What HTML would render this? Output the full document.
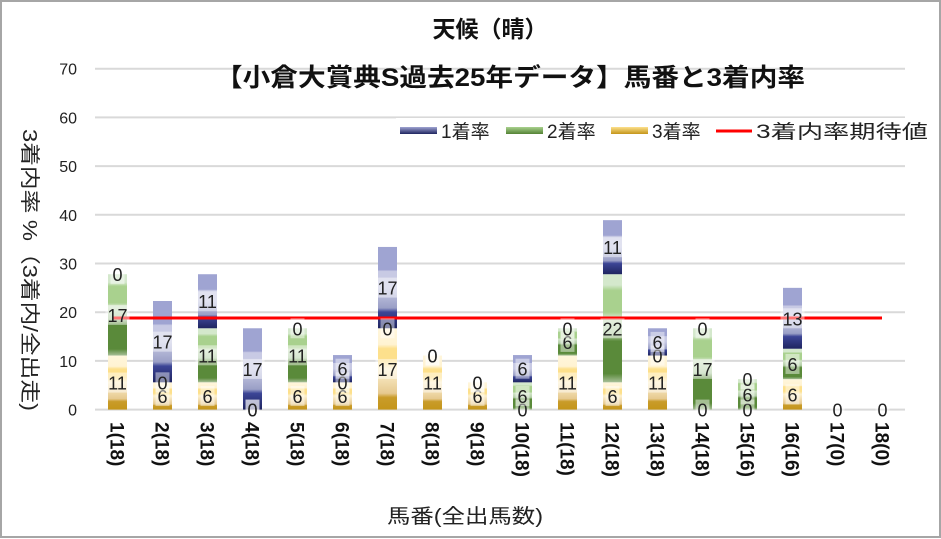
<!DOCTYPE html>
<html><head><meta charset="utf-8"><style>
html,body{margin:0;padding:0;background:#fff;}
svg{display:block;font-family:"Liberation Sans","Noto Sans CJK JP",sans-serif;}
</style></head><body>
<svg id="s" width="941" height="539" viewBox="0 0 941 539" xmlns="http://www.w3.org/2000/svg">
<defs>
<linearGradient id="gG" x1="0" y1="1" x2="0" y2="0">
<stop offset="0" stop-color="#c4951a"/><stop offset="0.15" stop-color="#c99c2a"/><stop offset="0.2" stop-color="#e6c98f"/><stop offset="0.5" stop-color="#fdf1cf"/><stop offset="0.6" stop-color="#fde08c"/><stop offset="0.75" stop-color="#fde08c"/><stop offset="0.8" stop-color="#fff3d2"/><stop offset="1" stop-color="#fff6dc"/>
</linearGradient>
<linearGradient id="gN" x1="0" y1="1" x2="0" y2="0">
<stop offset="0" stop-color="#a7bf98"/><stop offset="0.08" stop-color="#5a8a3a"/><stop offset="0.38" stop-color="#5a8a3a"/><stop offset="0.45" stop-color="#b4cfa8"/><stop offset="0.6" stop-color="#d2e5c8"/><stop offset="0.65" stop-color="#a9d18e"/><stop offset="0.85" stop-color="#a9d18e"/><stop offset="0.9" stop-color="#d4e8cc"/><stop offset="1" stop-color="#d4e8cc"/>
</linearGradient>
<linearGradient id="gB" x1="0" y1="1" x2="0" y2="0">
<stop offset="0" stop-color="#1f2560"/><stop offset="0.2" stop-color="#3c4596"/><stop offset="0.25" stop-color="#9a9fc6"/><stop offset="0.5" stop-color="#c8cae4"/><stop offset="0.7" stop-color="#c8cae4"/><stop offset="0.72" stop-color="#9fa4d2"/><stop offset="1" stop-color="#9fa4d2"/>
</linearGradient>
<linearGradient id="lB" x1="0" y1="0" x2="0" y2="1"><stop offset="0" stop-color="#9fa4d2"/><stop offset="1" stop-color="#1f2560"/></linearGradient>
<linearGradient id="lN" x1="0" y1="0" x2="0" y2="1"><stop offset="0" stop-color="#a9d18e"/><stop offset="1" stop-color="#548235"/></linearGradient>
<linearGradient id="lG" x1="0" y1="0" x2="0" y2="1"><stop offset="0" stop-color="#fde08c"/><stop offset="1" stop-color="#c4951a"/></linearGradient>
</defs>
<rect x="1" y="1" width="939" height="536" fill="#fff" stroke="#a6a6a6" stroke-width="2"/>
<g id="grid"></g>
<g id="bars"></g>
<line x1="113" y1="318" x2="882" y2="318" stroke="#ff0000" stroke-width="3"/>
<g id="labels"></g>
<rect x="396" y="118" width="538" height="26" fill="#fff"/>
<g font-size="19" fill="#222">
<rect x="400" y="127" width="37" height="7" fill="url(#lB)"/><text x="441" y="138">1着率</text>
<rect x="506" y="127" width="37" height="7" fill="url(#lN)"/><text x="547" y="138">2着率</text>
<rect x="611" y="127" width="37" height="7" fill="url(#lG)"/><text x="652" y="138">3着率</text>
<line x1="716" y1="131" x2="752" y2="131" stroke="#ff0000" stroke-width="3"/><text x="756" y="138" textLength="172" lengthAdjust="spacingAndGlyphs">3着内率期待値</text>
</g>
<text x="490" y="37" text-anchor="middle" font-size="23" font-weight="bold" fill="#111">天候（晴）</text>
<text x="215" y="86" font-size="25" font-weight="bold" fill="#111" textLength="590" lengthAdjust="spacingAndGlyphs">【小倉大賞典S過去25年データ】馬番と3着内率</text>
<text transform="translate(23,270) rotate(90)" text-anchor="middle" font-size="20" fill="#222" textLength="282" lengthAdjust="spacingAndGlyphs">3着内率 %（3着内/全出走)</text>
<text x="465" y="523" text-anchor="middle" font-size="20" fill="#222" textLength="156" lengthAdjust="spacingAndGlyphs">馬番(全出馬数)</text>
<g id="xl"></g>
</svg>
<script>
var NS="http://www.w3.org/2000/svg";
function el(p,t,a,txt){var e=document.createElementNS(NS,t);for(var k in a)e.setAttribute(k,a[k]);if(txt!=null)e.textContent=txt;document.getElementById(p).appendChild(e);return e;}
var y0=409.6,sc=4.87;
for(var v=0;v<=70;v+=10){var y=y0-v*sc;el("grid","line",{x1:95,x2:905,y1:y,y2:y,stroke:"#d9d9d9","stroke-width":2});
el("grid","text",{x:77,y:y+6,"text-anchor":"end","font-size":16,fill:"#222"},String(v));}
var d=[[11.1,16.7,0],[5.6,0,16.7],[5.6,11.1,11.1],[0,0,16.7],[5.6,11.1,0],[5.6,0,5.6],[16.7,0,16.7],[11.1,0,0],[5.6,0,0],[0,5.6,5.6],[11.1,5.6,0],[5.6,22.2,11.1],[11.1,0,5.6],[0,16.7,0],[0,6.25,0],[6.25,6.25,12.5],[0,0,0],[0,0,0]];
var n=["18","18","18","18","18","18","18","18","18","18","18","18","18","18","16","16","0","0"];
var fills=["url(#gG)","url(#gN)","url(#gB)"];
d.forEach(function(r,i){var cx=117.5+45*i,base=0,lab=[];
 var all0=(r[0]+r[1]+r[2])==0;
 r.forEach(function(v,j){var yb=y0-base*sc,yt=y0-(base+v)*sc;
  if(v>0)el("bars","rect",{x:cx-9.5,y:yt,width:19,height:yb-yt,fill:fills[j]});
  lab.push([(yb+yt)/2,Math.round(v)]);base+=v;});
 if(all0){lab=[[409.6,0]];}
 lab.forEach(function(l){var s=String(l[1]);var w=s.length*10+4;
  el("labels","rect",{x:cx-w/2,y:l[0]-10,width:w,height:20,fill:"#fff","fill-opacity":0.45});
  el("labels","text",{x:cx,y:l[0]+7,"text-anchor":"middle","font-size":18,fill:"#222"},s);});
 el("xl","text",{transform:"translate("+(cx-7)+",422) rotate(90)","font-size":19,"font-weight":"bold",fill:"#111"},(i+1)+"("+n[i]+")");
});
</script>
</body></html>
